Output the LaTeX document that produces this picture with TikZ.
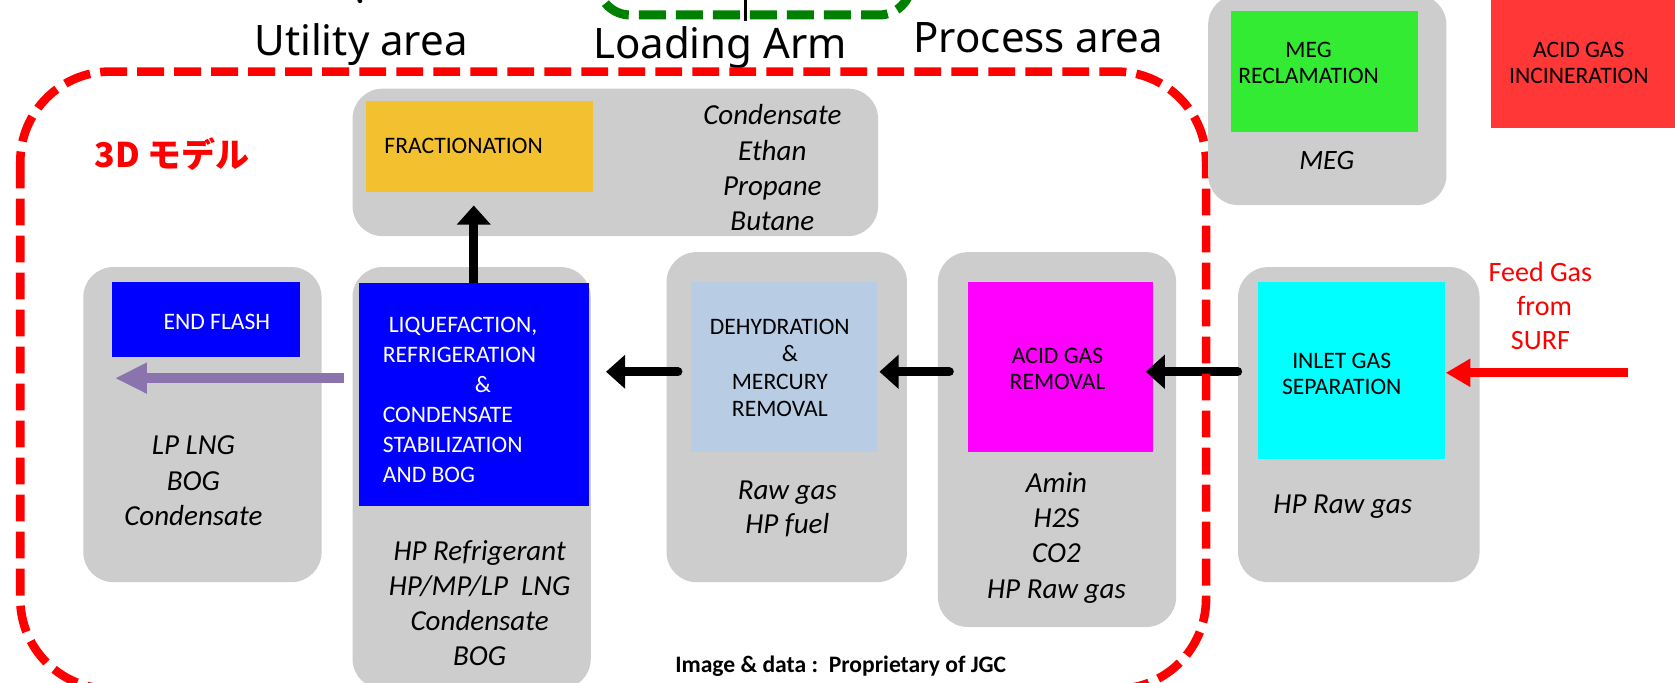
\documentclass[tikz,border=0pt]{standalone}
\usepackage{fontspec}
\setmainfont{Carlito}
\newfontfamily\headfont{Noto Sans}
\newfontfamily\jpfont{Noto Sans CJK JP}
\usetikzlibrary{arrows.meta}

\begin{document}
\begin{tikzpicture}[x=0.534pt,y=-0.534pt,
  bg/.style 2 args={fill=plantgray, rounded corners=15pt, inner sep=0pt,
    minimum width=#1, minimum height=#2},
  proc/.style n args={3}{fill=#1, inner sep=0pt, minimum width=#2, minimum height=#3},
  boxtext/.style={font=\fontsize{11.8}{12.8}\selectfont, align=center, inner sep=0pt},
  stream/.style={font=\fontsize{14.5}{17.6}\selectfont\itshape, align=center, inner sep=0pt},
  area/.style={font=\headfont\fontsize{21}{25}\selectfont, anchor=base, inner sep=0pt},
  flow/.style={line width=4.5pt, line cap=round, -{Triangle[width=16.5pt,length=9.6pt]}},
  lngflow/.style={draw=lngpurple, line width=5pt, -{Triangle[width=14.4pt,length=16pt]}},
  feed/.style={draw=red, line width=4.5pt, -{Triangle[width=13.4pt,length=12.3pt]}},
  zone/.style={line width=4.3pt, dash pattern=on 13.4pt off 5.1pt}]
\definecolor{plantgray}{RGB}{205,205,205}
\definecolor{fracorange}{RGB}{243,192,48}
\definecolor{dehydblue}{RGB}{184,204,228}
\definecolor{acidpink}{RGB}{255,0,255}
\definecolor{inletcyan}{RGB}{0,255,255}
\definecolor{meggreen}{RGB}{50,235,50}
\definecolor{incinred}{RGB}{255,55,55}
\definecolor{lngpurple}{RGB}{139,116,174}
\definecolor{armgreen}{RGB}{0,128,0}

\useasboundingbox (0,0) rectangle (1568,639);
\clip (0,0) rectangle (1568,639);

% plant blocks
\node[bg={262.7pt}{73.7pt}] (fracbg) at (576,152) {};
\node[proc={fracorange}{113.2pt}{45.4pt}] (fracbox) at (449,137.5) {};
\node[bg={119.1pt}{157.5pt}] (endbg) at (189.5,397.5) {};
\node[proc={blue}{94pt}{37.4pt}] (endbox) at (193,299) {};
\node[bg={119.1pt}{210.9pt}] (liqbg) at (441.5,447.5) {};
\node[proc={blue}{114.8pt}{111.6pt}] (liqbox) at (443.5,369.5) {};
\node[bg={120.2pt}{165pt}] (dehydbg) at (736.5,390.5) {};
\node[proc={dehydblue}{92.9pt}{84.9pt}] (dehydbox) at (734,343.5) {};
\node[bg={119.1pt}{187.4pt}] (acidbg) at (989.5,411.5) {};
\node[proc={acidpink}{92.4pt}{84.9pt}] (acidbox) at (992.5,343.5) {};
\node[bg={120.7pt}{157.5pt}] (inletbg) at (1272,397.5) {};
\node[proc={inletcyan}{93.5pt}{88.6pt}] (inletbox) at (1265.5,347) {};

\node[boxtext] (fractxt) at (434,137) {FRACTIONATION};
\node[stream] (fracout) at (723,157) {Condensate\\Ethan\\Propane\\Butane};
\node[boxtext, text=white] (endtxt) at (203,301) {END FLASH};
\node[stream] (endout) at (181,450) {LP LNG\\BOG\\Condensate};
\node[boxtext, text=white, align=left, anchor=west,
  font=\fontsize{11.8}{15}\selectfont] (liqtxt) at (358,374.5)
  {\hspace{3pt}LIQUEFACTION,\\REFRIGERATION\\\hspace{46pt}\&\\CONDENSATE\\STABILIZATION\\AND BOG};
\node[stream] (liqout) at (449,564.5) {HP Refrigerant\\HP/MP/LP\ \ LNG\\Condensate\\BOG};
\node[boxtext, font=\fontsize{11.8}{13.7}\selectfont] (dehydtxt) at (730,344.5)
  {DEHYDRATION\\\hspace{10pt}\&\\MERCURY\\REMOVAL};
\node[stream, font=\fontsize{14.5}{17}\selectfont\itshape] (dehydout) at (737,476) {Raw gas\\HP fuel};
\node[boxtext] (acidtxt) at (990,345.5) {ACID GAS\\REMOVAL};
\node[stream] (acidout) at (989,503.5) {Amin\\H2S\\CO2\\HP Raw gas};
\node[boxtext] (inlettxt) at (1256,350) {INLET GAS\\SEPARATION};
\node[stream] (inletout) at (1257,474) {HP Raw gas};
\node[text=red, align=center, inner sep=0pt, font=\fontsize{14}{17}\selectfont]
  (feedtxt) at (1442,286) {Feed Gas\\\hspace{4pt}from\\SURF};

% areas
\node[area] (utility) at (338,52) {Utility area};
\node[area] (arm) at (674,55) {Loading Arm};
\node[area] (process) at (972,49.5) {Process area};
\node[text=red, inner sep=0pt, font=\jpfont\bfseries\fontsize{17}{20}\selectfont]
  (model) at (161,144) {3D モデル};
\node[anchor=base, inner sep=0pt, font=\bfseries\fontsize{11.8}{14}\selectfont]
  (credit) at (787,630) {Image \& data :\ \ Proprietary of JGC};

% streams
\coordinate (flowy) at (0,348);
\coordinate (lngy) at (0,354);
\coordinate (surf) at (1524,349);
\draw[feed] (surf) -- (surf -| inletbox.east);
\draw[flow, shorten >=-3.7pt] (inletbg.west |- flowy) -- (acidbox.east |- flowy);
\draw[flow, shorten <=-5.9pt, shorten >=1pt] (acidbg.west |- flowy) -- (dehydbox.east |- flowy);
\draw[flow, shorten <=-5.9pt, shorten >=8.5pt] (dehydbg.west |- flowy) -- (liqbox.east |- flowy);
\draw[flow, line cap=butt, shorten >=6.4pt] (liqbox.north) -- (liqbox.north |- fracbox.south);
\draw[lngflow, shorten <=4.3pt, shorten >=1.6pt] (liqbg.west |- lngy) -- (endbox.west |- lngy);

% boundaries
\draw[zone, draw=red, rounded corners=45pt] (19,67) rectangle (1129,645);
\draw[zone, draw=armgreen, line width=4.5pt, rounded corners=16pt] (560,-60) rectangle (853,14);
\draw[line width=1.3pt] (698,-5) -- (698,20);
\draw[line width=2.2pt, line cap=round] (333,-10) -- (337,1);

% off-site units
\node[bg={119.1pt}{105.2pt}] (megbg) at (1242.5,93.5) {};
\node[proc={meggreen}{93.5pt}{60.9pt}] (megbox) at (1239.5,67) {};
\node[boxtext] (megtxt) at (1225,59) {MEG\\RECLAMATION};
\node[stream, font=\fontsize{14}{17}\selectfont\itshape] (megout) at (1242,150) {MEG};
\node[proc={incinred}{108.9pt}{69.4pt}] (incinbox) at (1498,55) {};
\node[boxtext] (incintxt) at (1478,59) {ACID GAS\\INCINERATION};
\end{tikzpicture}
\end{document}
